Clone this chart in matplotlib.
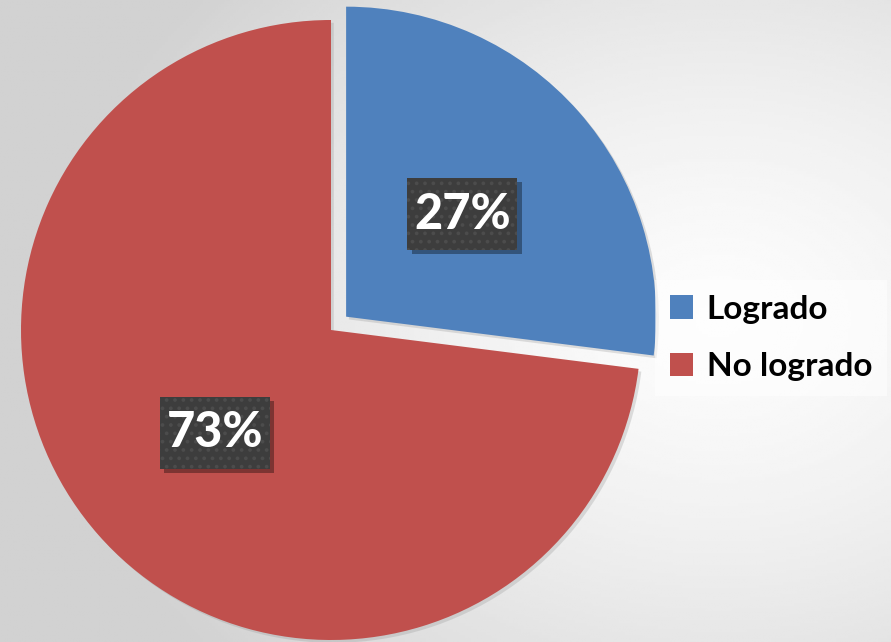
import numpy as np
import matplotlib
matplotlib.use('Agg')
import matplotlib.pyplot as plt
import matplotlib.patches as mpatches
import matplotlib.patheffects as pe
from matplotlib.transforms import offset_copy

# datos
categorias = ['Logrado', 'No logrado']
valores = [27, 73]
colores = ['#4F81BD', '#C0504D']
separar = [0.065, 0.0]

plt.rcParams['font.family'] = ['Lato', 'DejaVu Sans']
plt.rcParams['hatch.linewidth'] = 1.5

fig = plt.figure(figsize=(8.91, 6.42), dpi=100)

# fondo degradado gris
bg = fig.add_axes([0, 0, 1, 1], zorder=0)
xx, yy = np.meshgrid(np.linspace(0, 891, 300), np.linspace(0, 642, 220))
d = np.sqrt(((xx - 720) / 560) ** 2 + ((yy - 320) / 430) ** 2)
g = 0.99 - 0.13 * np.clip(d, 0, 1.2) ** 1.4
bg.imshow(g, cmap='gray', vmin=0, vmax=1, extent=[0, 891, 642, 0], aspect='auto')
bg.axis('off')

ax = fig.add_axes([0, 0, 1, 1], zorder=1)
ax.patch.set_alpha(0)

wedges, textos, pcts = ax.pie(valores, colors=colores, explode=separar, startangle=90,
                              counterclock=False, autopct='%1.0f%%', pctdistance=0.5,
                              radius=1.0, wedgeprops=dict(linewidth=0))

# sombra suave de los sectores
for w in wedges:
    w.set_path_effects([pe.SimplePatchShadow(offset=(2, -2), shadow_rgbFace='#999999', alpha=0.3),
                        pe.Normal()])

# cajas oscuras de las etiquetas (radio = 310 px)
caja_w, caja_h = 110 / 310, 72 / 310
for t in pcts:
    x, y = t.get_position()
    sombra = mpatches.Rectangle((x - caja_w / 2, y - caja_h / 2), caja_w, caja_h,
                                facecolor='black', alpha=0.35, linewidth=0, zorder=3,
                                transform=offset_copy(ax.transData, fig=fig, x=3, y=-3, units='points'))
    ax.add_patch(sombra)
    caja = mpatches.Rectangle((x - caja_w / 2, y - caja_h / 2), caja_w, caja_h,
                              facecolor='#3d3d3d', edgecolor='#4c4c4c', linewidth=0,
                              hatch='..', zorder=3.5)
    ax.add_patch(caja)
    t.set_color('white')
    t.set_fontsize(35)
    t.set_fontweight('black')
    t.set_zorder(4)

ax.set_aspect('auto')
ax.set_xlim(-331 / 310, (891 - 331) / 310)
ax.set_ylim(-(642 - 330) / 310, 330 / 310)

handles = [mpatches.Patch(facecolor=c, label=n) for c, n in zip(colores, categorias)]
leg = ax.legend(handles=handles, loc='center left', bbox_to_anchor=(655 / 891, 1 - 338 / 642),
                bbox_transform=fig.transFigure, frameon=True, fancybox=False, borderaxespad=0,
                prop=dict(size=24, weight='bold'), handlelength=0.7, handleheight=0.7,
                handletextpad=0.4, labelspacing=0.85, borderpad=0.45)
leg.get_frame().set_facecolor('white')
leg.get_frame().set_alpha(0.55)
leg.get_frame().set_linewidth(0)

fig.savefig('out.png', dpi=100)
